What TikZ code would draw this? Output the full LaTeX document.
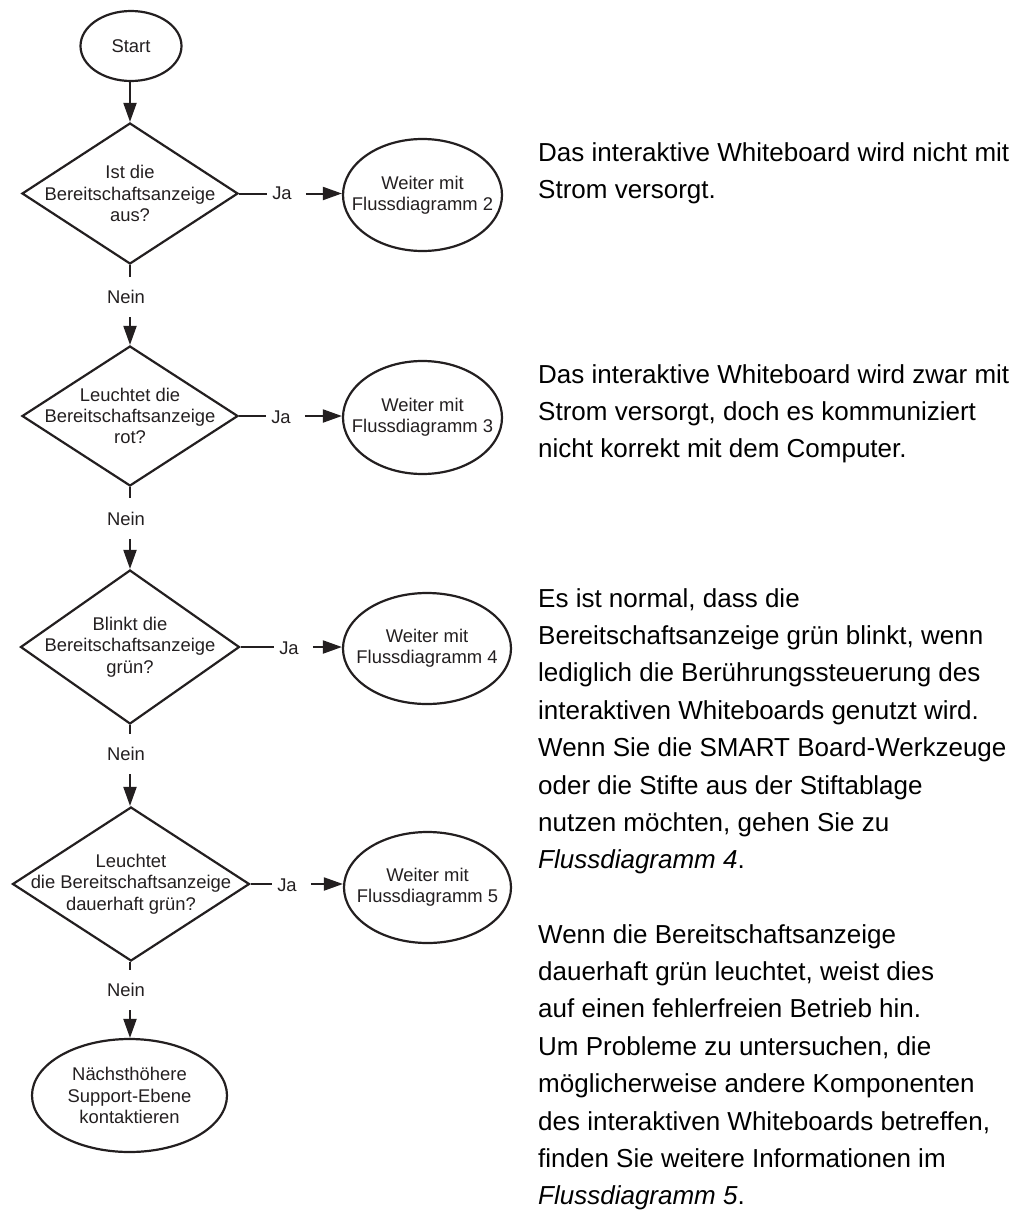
\documentclass[tikz,border=0pt]{standalone}
\usepackage{fontspec}
\setmainfont{Liberation Sans}
\usetikzlibrary{shapes.geometric,arrows.meta}
\definecolor{ink}{HTML}{231F20}
\begin{document}
\begin{tikzpicture}[x=1pt,y=-1pt,
  flowfont/.style={font=\fontsize{18.4}{21.4}\selectfont, text=ink, align=center},
  shp/.style={draw=ink, line width=2.2pt, inner sep=0pt},
  oval/.style={shp, ellipse},
  dia/.style={shp, diamond},
  lbl/.style={font=\fontsize{18.4}{21.4}\selectfont, text=ink, inner xsep=0pt},
  jalbl/.style={lbl, inner ysep=0pt, inner xsep=5pt},
  neinlbl/.style={lbl, inner ysep=13.5pt},
  con/.style={draw=ink, line width=2pt},
  arr/.style={con, -{Triangle[length=19pt,width=13pt]}},
  para/.style={font=\fontsize{26}{37.4}\selectfont, align=left, anchor=base west, inner sep=0pt, text=black}
]
\useasboundingbox (0,0) rectangle (1030,1210);

% flow nodes
\node[oval, minimum width=101pt, minimum height=70pt, label={[flowfont]center:Start}] (start) at (131,46) {};
\node[dia, minimum width=216pt, minimum height=141pt, label={[flowfont]center:{Ist die\\Bereitschaftsanzeige\\aus?}}] (d1) at (130,193.5) {};
\node[dia, minimum width=216pt, minimum height=140pt, label={[flowfont]center:{Leuchtet die\\Bereitschaftsanzeige\\rot?}}] (d2) at (130,416) {};
\node[dia, minimum width=219pt, minimum height=154pt, label={[flowfont]center:{Blinkt die\\Bereitschaftsanzeige\\grün?}}] (d3) at (130,647) {};
\node[dia, minimum width=237pt, minimum height=154pt, label={[flowfont]center:{Leuchtet\\die Bereitschaftsanzeige\\dauerhaft grün?}}] (d4) at (131,884) {};

\node[oval, minimum width=159pt, minimum height=112pt, label={[flowfont]center:{Weiter mit\\Flussdiagramm 2}}] (e1) at (422.5,195) {};
\node[oval, minimum width=159pt, minimum height=113pt, label={[flowfont]center:{Weiter mit\\Flussdiagramm 3}}] (e2) at (422.5,417.5) {};
\node[oval, minimum width=168pt, minimum height=111pt, label={[flowfont]center:{Weiter mit\\Flussdiagramm 4}}] (e3) at (427,648.5) {};
\node[oval, minimum width=167pt, minimum height=111pt, label={[flowfont]center:{Weiter mit\\Flussdiagramm 5}}] (e4) at (427.5,887.5) {};
\node[oval, minimum width=195pt, minimum height=113pt, label={[flowfont]center:{Nächsthöhere\\Support-Ebene\\kontaktieren}}] (e5) at (129.5,1095.5) {};

% Ja labels
\node[jalbl] (ja1) at (282,193) {Ja};
\node[jalbl] (ja2) at (281,417) {Ja};
\node[jalbl] (ja3) at (289,648) {Ja};
\node[jalbl] (ja4) at (287,885) {Ja};

% Nein labels
\node[neinlbl] (n1) at (126,297) {Nein};
\node[neinlbl] (n2) at (126,518.5) {Nein};
\node[neinlbl] (n3) at (126,754) {Nein};
\node[neinlbl] (n4) at (126,990) {Nein};

% connectors
\draw[arr] (start.south -| d1.north) -- (d1.north);

\draw[con] (d1.east) -- (ja1.west |- d1.east);
\draw[arr] ([xshift=9pt]ja1.east |- d1.east) -- (e1.west |- d1.east);
\draw[con] (d2.east) -- (ja2.west |- d2.east);
\draw[arr] ([xshift=9pt]ja2.east |- d2.east) -- (e2.west |- d2.east);
\draw[con] (d3.east) -- (ja3.west |- d3.east);
\draw[arr] ([xshift=9pt]ja3.east |- d3.east) -- (e3.west |- d3.east);
\draw[con] (d4.east) -- (ja4.west |- d4.east);
\draw[arr] ([xshift=9pt]ja4.east |- d4.east) -- (e4.west |- d4.east);

\draw[con] (d1.south) -- (d1.south |- n1.north);
\draw[arr] (d1.south |- n1.south) -- (d2.north);
\draw[con] (d2.south) -- (d2.south |- n2.north);
\draw[arr] (d2.south |- n2.south) -- (d3.north);
\draw[con] (d3.south) -- (d3.south |- n3.north);
\draw[arr] (d3.south |- n3.south) -- (d4.north -| d3.south);
\draw[con] (d4.south -| d3.south) -- (d3.south |- n4.north);
\draw[arr] (d3.south |- n4.south) -- (e5.north -| d3.south);

% explanatory paragraphs (anchored at the baseline of their last line)
\node[para] (p1) at (538,198.4) {Das interaktive Whiteboard wird nicht mit\\Strom versorgt.};
\node[para] (p2) at (538,457.8) {Das interaktive Whiteboard wird zwar mit\\Strom versorgt, doch es kommuniziert\\nicht korrekt mit dem Computer.};
\node[para] (p3) at (538,868.8) {Es ist normal, dass die\\Bereitschaftsanzeige grün blinkt, wenn\\lediglich die Berührungssteuerung des\\interaktiven Whiteboards genutzt wird.\\Wenn Sie die SMART Board-Werkzeuge\\oder die Stifte aus der Stiftablage\\nutzen möchten, gehen Sie zu\\\textit{Flussdiagramm 4}.};
\node[para] (p4) at (538,1204.8) {Wenn die Bereitschaftsanzeige\\dauerhaft grün leuchtet, weist dies\\auf einen fehlerfreien Betrieb hin.\\Um Probleme zu untersuchen, die\\möglicherweise andere Komponenten\\des interaktiven Whiteboards betreffen,\\finden Sie weitere Informationen im\\\textit{Flussdiagramm 5}.};
\end{tikzpicture}
\end{document}
